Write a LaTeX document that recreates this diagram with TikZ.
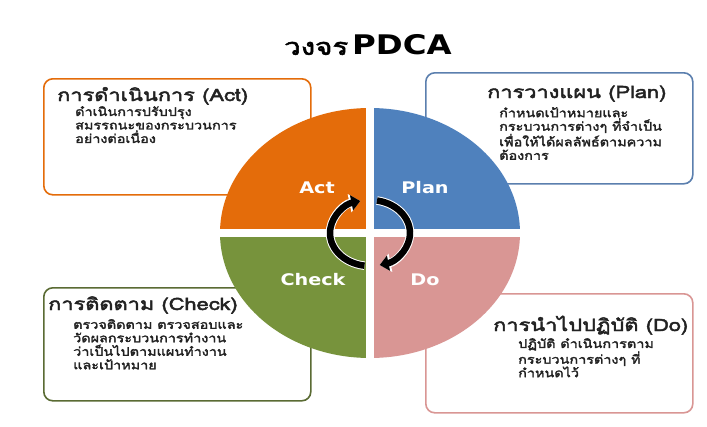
\documentclass[tikz,border=0pt]{standalone}
\usepackage{fontspec}
\setmainfont{DejaVu Sans}
\newfontfamily\thaifont[Script=Thai,FakeStretch=1.2,FakeBold=2.4]{Loma}
\newfontfamily\thaihead[Script=Thai,FakeStretch=1.28,FakeBold=2.6]{Loma}
\newfontfamily\capfont[FakeStretch=1.2]{DejaVu Sans}
\usetikzlibrary{arrows.meta,positioning,calc}
\definecolor{actc}{HTML}{E46C0A}
\definecolor{planc}{HTML}{4F81BD}
\definecolor{checkc}{HTML}{77933C}
\definecolor{doc}{HTML}{D99694}
\definecolor{checkline}{HTML}{5A6B33}
\definecolor{planline}{HTML}{5B7FAE}
\definecolor{ink}{HTML}{222222}

\begin{document}
\begin{tikzpicture}[x=1pt,y=-1pt,
  box/.style={draw,line width=1.6pt,rounded corners=9pt,fill=white,anchor=north west,inner sep=0pt},
  head/.style={anchor=base west,inner sep=0pt,text=ink,font=\thaihead\fontsize{17}{19}\selectfont},
  body/.style={anchor=north west,inner sep=0pt,align=left,text=ink,font=\thaifont\fontsize{12}{13.5}\selectfont},
  quad/.style={text=white,font=\capfont\bfseries\fontsize{16}{18}\selectfont},
  turn/.style={line width=6.5pt,-{Triangle[width=15pt,length=9pt]},preaction={draw=white,line width=8.5pt,-{Triangle[width=18pt,length=11pt]}}}]
\useasboundingbox[fill=white] (0,0) rectangle (707,426);

\node at (368,45) (title) {{\thaihead\fontsize{23}{25}\selectfont วงจร}\hspace{4pt}{\capfont\bfseries\fontsize{27}{30}\selectfont PDCA}};

\node[box,draw=actc,minimum width=267pt,minimum height=116pt] at (43,78) (actbox) {};
\node[box,draw=planline,minimum width=267pt,minimum height=111pt] at (425,72) (planbox) {};
\node[box,draw=checkline,minimum width=267pt,minimum height=113pt] at (43,287) (checkbox) {};
\node[box,draw=doc,minimum width=267pt,minimum height=119pt] at (425,293) (dobox) {};

\node[head] at (57,101) (acthead) {การดำเนินการ (Act)};
\node[body] at (75,106) (actbody) {ดำเนินการปรับปรุง\\สมรรถนะของกระบวนการ\\อย่างต่อเนื่อง};
\node[head] at (487,98) (planhead) {การวางแผน (Plan)};
\node[body] at (499,107) (planbody) {กำหนดเป้าหมายและ\\กระบวนการต่างๆ ที่จำเป็น\\เพื่อให้ได้ผลลัพธ์ตามความ\\ต้องการ};
\node[head] at (48,310) (checkhead) {การติดตาม (Check)};
\node[body] at (73,319) (checkbody) {ตรวจติดตาม ตรวจสอบและ\\วัดผลกระบวนการทำงาน\\ว่าเป็นไปตามแผนทำงาน\\และเป้าหมาย};
\node[head] at (493,331) (dohead) {การนำไปปฏิบัติ (Do)};
\node[body] at (518,338) (dobody) {ปฏิบัติ ดำเนินการตาม\\กระบวนการต่างๆ ที่\\กำหนดไว้};

\coordinate (c) at (370,233);
\fill[actc] (c) -- ++(-150,0) arc[start angle=180,end angle=270,x radius=150,y radius=125] -- cycle;
\fill[planc] (c) -- ++(0,-125) arc[start angle=270,end angle=360,x radius=150,y radius=125] -- cycle;
\fill[doc] (c) -- ++(150,0) arc[start angle=0,end angle=90,x radius=150,y radius=125] -- cycle;
\fill[checkc] (c) -- ++(0,125) arc[start angle=90,end angle=180,x radius=150,y radius=125] -- cycle;
\draw[white,line width=8pt] ($(c)+(0,-126)$) -- ($(c)+(0,126)$);
\draw[white,line width=8pt] ($(c)+(-151,0)$) -- ($(c)+(151,0)$);

\node[quad] at (317,188) (act) {Act};
\node[quad] at (425,188) (plan) {Plan};
\node[quad] at (313,280) (check) {Check};
\node[quad] at (425,280) (do) {Do};

\draw[turn] (c) ++(98:40 and 33) arc[start angle=98,end angle=256,x radius=40,y radius=33];
\draw[turn] (c) ++(280:40 and 33) arc[start angle=280,end angle=436,x radius=40,y radius=33];
\end{tikzpicture}
\end{document}
